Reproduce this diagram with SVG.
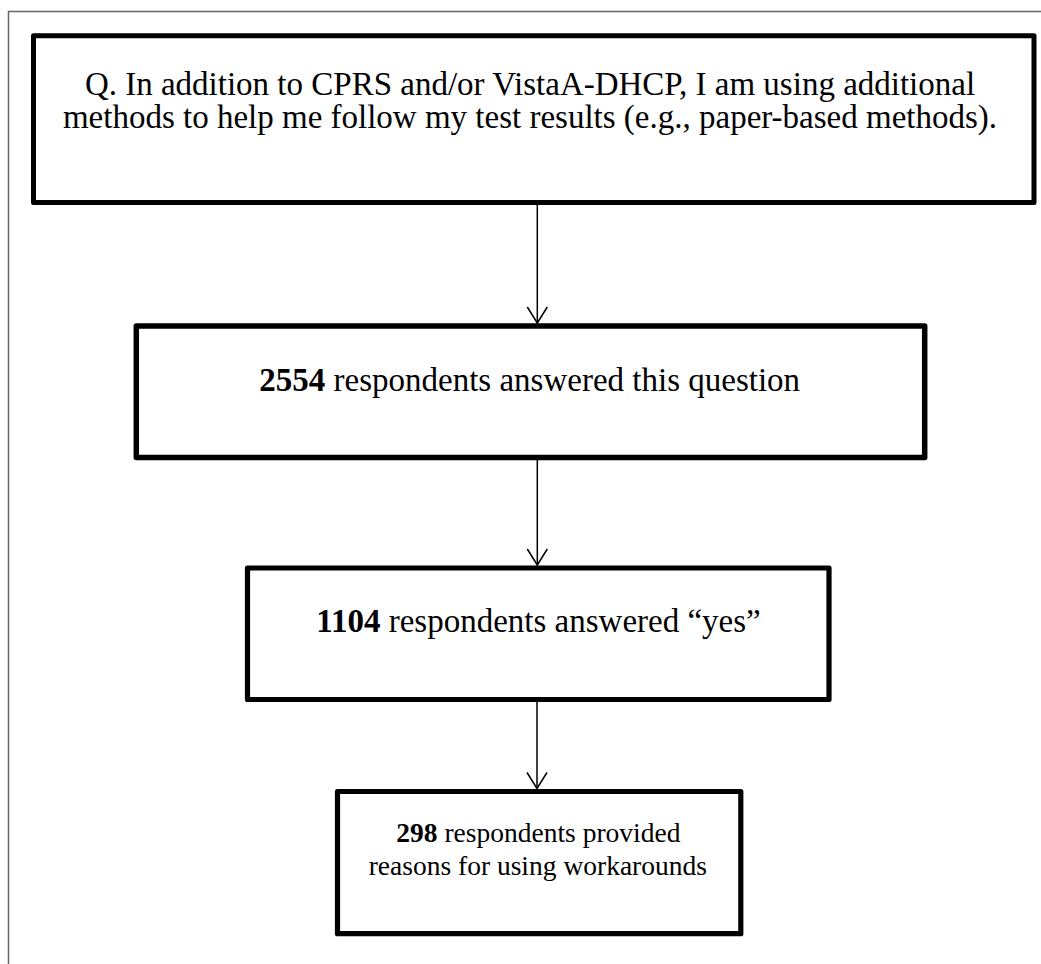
<svg xmlns="http://www.w3.org/2000/svg" width="1041" height="964" viewBox="0 0 1041 964">
<defs>
<style>
.frame{fill:none;stroke:#666;stroke-width:1.5}
.box{fill:#fff;stroke:#000;stroke-linejoin:round}
.conn{fill:none;stroke:#000;stroke-width:1.5}
.t{font-family:"Liberation Serif","Times New Roman",serif;fill:#000;text-anchor:middle}
.big{font-size:33px}
.small{font-size:27.5px}
.b{font-weight:bold}
</style>
<marker id="arr" markerUnits="userSpaceOnUse" viewBox="-18 -12 20 24" markerWidth="20" markerHeight="24" refX="0" refY="0" orient="auto">
<path d="M-16,-10 L0,0 L-16,10" fill="none" stroke="#000" stroke-width="1.5"/>
</marker>
</defs>
<rect width="1041" height="964" fill="#fff"/>
<path class="frame" d="M8.5,964 L8.5,11.5 L1041,11.5"/>
<g id="connectors">
<line class="conn" x1="537.3" y1="205" x2="537.3" y2="323" marker-end="url(#arr)"/>
<line class="conn" x1="537.3" y1="460" x2="537.3" y2="565" marker-end="url(#arr)"/>
<line class="conn" x1="537" y1="702" x2="537" y2="788.5" marker-end="url(#arr)"/>
</g>
<g id="node-question">
<rect class="box" x="33.5" y="35.8" width="1000.5" height="166.7" stroke-width="5"/>
<text class="t big" x="530" y="95">Q. In addition to CPRS and/or VistaA-DHCP, I am using additional</text>
<text class="t big" x="530" y="128">methods to help me follow my test results (e.g., paper-based methods).</text>
</g>
<g id="node-answered">
<rect class="box" x="136.3" y="326" width="788.4" height="131.5" stroke-width="5.5"/>
<text class="t big" x="529.7" y="390.5"><tspan class="b">2554</tspan> respondents answered this question</text>
</g>
<g id="node-yes">
<rect class="box" x="247.5" y="568" width="581.5" height="131.5" stroke-width="5.2"/>
<text class="t big" x="538.5" y="631.5"><tspan class="b">1104</tspan> respondents answered “yes”</text>
</g>
<g id="node-reasons">
<rect class="box" x="337.5" y="791.5" width="403.3" height="142.2" stroke-width="5.2"/>
<text class="t small" x="538.4" y="841.7"><tspan class="b">298</tspan> respondents provided</text>
<text class="t small" x="537.8" y="875">reasons for using workarounds</text>
</g>
</svg>
